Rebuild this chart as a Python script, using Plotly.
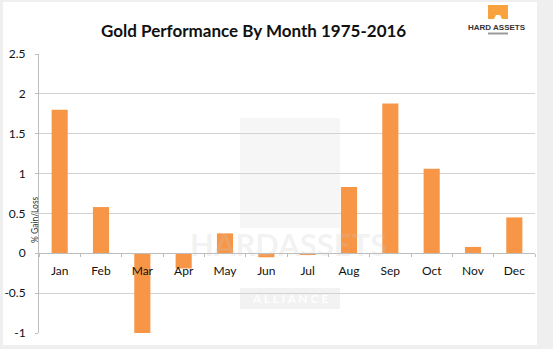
import plotly.graph_objects as go

# Average monthly gold return, 1975-2016 (% gain/loss)
months = ["Jan", "Feb", "Mar", "Apr", "May", "Jun", "Jul", "Aug", "Sep", "Oct", "Nov", "Dec"]
gain_loss = [1.80, 0.58, -1.04, -0.19, 0.25, -0.05, -0.01, 0.83, 1.88, 1.06, 0.08, 0.45]

y_ticks = [-1, -0.5, 0, 0.5, 1, 1.5, 2, 2.5]
y_tick_labels = ["-1", "-0.5", "0", "0.5", "1", "1.5", "2", "2.5"]

Y_MIN, Y_MAX = -1, 2.5

W, H = 553, 349
ML, MR, MT, MB = 39, 18, 54, 16
PW, PH = W - ML - MR, H - MT - MB


def fx(px):
    return (px - ML) / PW


def fy(py):
    return (H - MB - py) / PH


ORANGE = "#F79646"
GRID = "#d2d2d2"
PAGE = "#efefef"
FONT = "Lato, 'Liberation Sans', sans-serif"

fig = go.Figure(
    go.Bar(
        x=months,
        y=gain_loss,
        marker=dict(color=ORANGE, line=dict(width=0)),
        width=0.39,
        hoverinfo="x+y",
    )
)

shapes = [
    # faint watermark block (translucent so the grid shows through)
    dict(type="rect", xref="paper", yref="paper", layer="below",
         x0=fx(240), x1=fx(340), y0=fy(228), y1=fy(118),
         fillcolor="rgba(0,0,0,0.035)", line=dict(width=0)),
    dict(type="rect", xref="paper", yref="paper", layer="below",
         x0=fx(240), x1=fx(340), y0=fy(309), y1=fy(288),
         fillcolor="rgba(0,0,0,0.05)", line=dict(width=0)),
    # grey page border around the white card
    dict(type="rect", xref="paper", yref="paper", layer="above",
         x0=fx(537), x1=fx(W), y0=fy(H), y1=fy(0),
         fillcolor=PAGE, line=dict(width=0)),
    dict(type="rect", xref="paper", yref="paper", layer="above",
         x0=fx(0), x1=fx(W), y0=fy(H), y1=fy(345),
         fillcolor=PAGE, line=dict(width=0)),
    dict(type="rect", xref="paper", yref="paper", layer="above",
         x0=fx(0), x1=fx(W), y0=fy(2), y1=fy(0),
         fillcolor=PAGE, line=dict(width=0)),
    dict(type="rect", xref="paper", yref="paper", layer="above",
         x0=fx(0), x1=fx(3), y0=fy(H), y1=fy(0),
         fillcolor=PAGE, line=dict(width=0)),
    # logo block
    dict(type="rect", xref="paper", yref="paper",
         x0=fx(488), x1=fx(508), y0=fy(19), y1=fy(5),
         fillcolor="#F9A33F", line=dict(width=0)),
    dict(type="path", xref="paper", yref="paper",
         path=f"M {fx(494)},{fy(19)} L {fx(496)},{fy(15)} L {fx(500)},{fy(15)} L {fx(502)},{fy(19)} Z",
         fillcolor="white", line=dict(width=0)),
    dict(type="rect", xref="paper", yref="paper",
         x0=fx(488), x1=fx(508), y0=fy(34.5), y1=fy(32.5),
         fillcolor="#9a9a9a", line=dict(width=0)),
]

annotations = [
    dict(text="<b>Gold Performance By Month 1975-2016</b>", xref="paper", yref="paper",
         x=fx(253), y=fy(30), xanchor="center", yanchor="middle", showarrow=False,
         font=dict(family=FONT, size=17, color="#111")),
    dict(text="<b>HARD ASSETS</b>", xref="paper", yref="paper",
         x=fx(497), y=fy(27), xanchor="center", yanchor="middle", showarrow=False,
         font=dict(family="'Liberation Sans Narrow', 'Liberation Sans', sans-serif", size=8, color="#333")),
    dict(text="% Gain/Loss", xref="paper", yref="paper",
         x=fx(35), y=fy(220), xanchor="center", yanchor="middle", textangle=-90,
         showarrow=False, font=dict(family=FONT, size=8.5, color="#333")),
    # watermark lettering
    dict(text="<b>HARDASSETS</b>", xref="paper", yref="paper",
         x=fx(288), y=fy(244), xanchor="center", yanchor="middle", showarrow=False,
         font=dict(family=FONT, size=31, color="rgba(200,200,200,0.22)")),
    dict(text="<b>A L L I A N C E</b>", xref="paper", yref="paper",
         x=fx(290), y=fy(298.5), xanchor="center", yanchor="middle", showarrow=False,
         font=dict(family=FONT, size=12, color="rgba(255,255,255,0.9)")),
]

fig.update_layout(
    width=W, height=H,
    margin=dict(l=ML, r=MR, t=MT, b=MB, autoexpand=False),
    paper_bgcolor="white",
    plot_bgcolor="white",
    showlegend=False,
    font=dict(family=FONT, size=12, color="#111"),
    shapes=shapes,
    annotations=annotations,
    xaxis=dict(
        anchor="free",
        position=(0 - Y_MIN) / (Y_MAX - Y_MIN),
        automargin=False,
        showline=True, linecolor="#bdbdbd", linewidth=1,
        ticks="outside", tickson="boundaries", ticklen=3, tickcolor="#bdbdbd",
        ticklabelstandoff=6,
        showgrid=False, zeroline=False,
        tickfont=dict(family=FONT, size=12, color="#111"),
        fixedrange=True,
    ),
    yaxis=dict(
        range=[Y_MIN, Y_MAX],
        automargin=False,
        tickvals=y_ticks, ticktext=y_tick_labels,
        showgrid=True, gridcolor=GRID, gridwidth=1,
        zeroline=False,
        showline=True, linecolor="#bdbdbd", linewidth=1,
        ticks="outside", ticklen=3, tickcolor="#bdbdbd",
        ticklabelstandoff=7,
        tickfont=dict(family=FONT, size=12, color="#111"),
        fixedrange=True,
    ),
)

fig.write_html("out.html", config={"displayModeBar": False})
